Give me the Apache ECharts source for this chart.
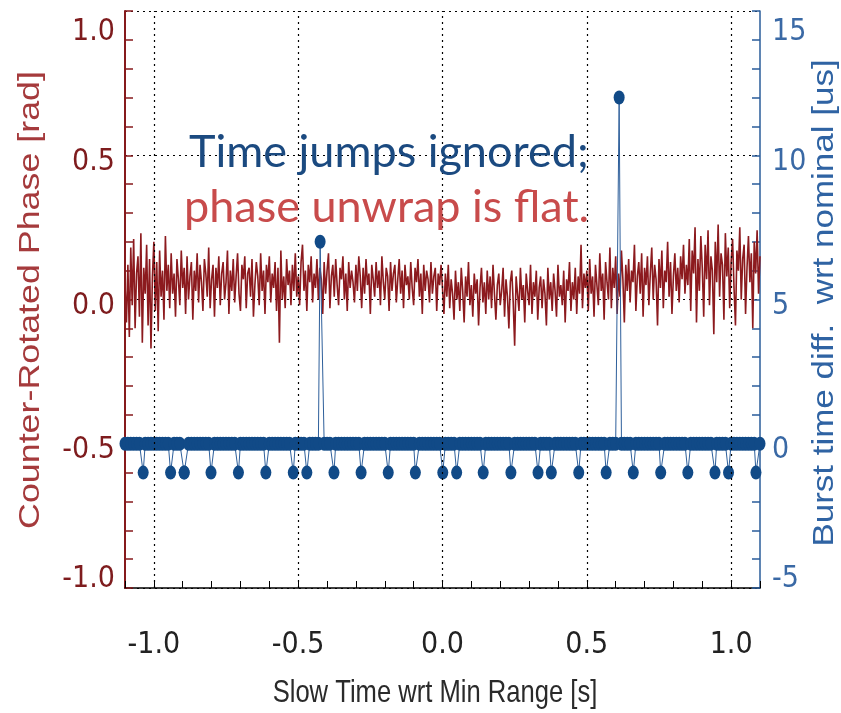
<!DOCTYPE html>
<html>
<head>
<meta charset="utf-8">
<script src="https://cdn.jsdelivr.net/npm/echarts@6/dist/echarts.min.js"></script>
<style>html,body{margin:0;padding:0;background:#fff}#c{width:841px;height:713px}</style>
</head>
<body>
<div id="c"></div>
<script>
// ---- data ----
const phaseStart = -1.1;     // s, first sample of the phase trace
const phaseStep = 0.005;     // s, sample spacing of the phase trace
const phaseValues = [
  // -1.100 .. -0.955
  0.05, -0.08, 0.12, -0.13, 0.18, -0.02, 0.21, -0.10, 0.09, 0.15, -0.06, 0.23, -0.15, 0.11, 0.02, 0.19, -0.09, 0.14, -0.17, 0.08, 0.20, -0.04, 0.13, -0.11, 0.17, 0.01, 0.10, -0.07, 0.22, 0.03,
  // -0.950 .. -0.505
  0.12, -0.03, 0.16, 0.02, 0.09, -0.06, 0.14, 0.07, -0.02, 0.17, 0.04, 0.11, -0.05, 0.15, 0.00, 0.08, 0.13, -0.07, 0.10, 0.03,
  0.16, -0.01, 0.12, 0.06, -0.04, 0.14, 0.09, 0.01, 0.18, -0.03, 0.07, 0.12, -0.06, 0.11, 0.04, 0.15, -0.02, 0.09, 0.13, 0.00,
  0.06, 0.17, -0.05, 0.10, 0.03, 0.14, -0.01, 0.08, 0.16, 0.02, -0.04, 0.12, 0.07, 0.15, -0.03, 0.09, 0.11, 0.01, 0.14, -0.06,
  0.05, 0.13, 0.08, -0.02, 0.16, 0.03, 0.10, -0.05, 0.12, 0.06, 0.15, -0.01, 0.09, 0.04, 0.13, -0.04, 0.11, -0.15, 0.17, 0.00,
  0.08, -0.03, 0.14, 0.05, 0.10, -0.02, 0.12, 0.03, 0.16, 0.01,
  // -0.500 .. -0.005
  0.08, -0.02, 0.13, 0.19, 0.03, 0.10, -0.04, 0.12, 0.06, 0.15,
  -0.01, 0.09, 0.04, 0.14, 0.00, 0.11, 0.07, -0.05, 0.13, 0.02,
  0.10, 0.16, -0.03, 0.08, 0.12, 0.01, 0.14, 0.05, -0.02, 0.11,
  0.07, 0.15, 0.00, 0.09, -0.04, 0.13, 0.04, 0.10, 0.06, -0.01,
  0.12, 0.03, 0.15, 0.08, -0.03, 0.11, 0.02, 0.14, 0.05, 0.09,
  -0.05, 0.12, 0.07, 0.01, 0.13, 0.04, 0.10, -0.02, 0.15, 0.06,
  0.00, 0.11, 0.08, -0.04, 0.13, 0.03, 0.09, 0.12, -0.01, 0.07,
  0.14, 0.02, 0.10, -0.03, 0.12, 0.05, 0.08, 0.00, 0.13, 0.04,
  -0.02, 0.11, 0.06, 0.14, 0.01, 0.09, -0.05, 0.12, 0.03, 0.10,
  0.07, -0.01, 0.13, 0.02, 0.08, 0.11, -0.04, 0.09, 0.05, 0.12,
  // 0.000 .. 0.495
  0.04, -0.05, 0.09, 0.01, 0.12, -0.03, 0.07, 0.02, -0.07, 0.10,
  0.00, 0.06, -0.04, 0.11, 0.03, -0.08, 0.08, 0.01, 0.13, -0.02,
  0.05, -0.06, 0.09, 0.02, 0.07, -0.09, 0.04, 0.11, -0.01, 0.06,
  -0.05, 0.10, 0.00, 0.08, -0.03, 0.12, 0.02, -0.07, 0.05, 0.09,
  -0.02, 0.03, 0.11, -0.06, 0.07, 0.01, -0.10, 0.06, 0.10, -0.01,
  -0.16, 0.08, 0.02, -0.04, 0.11, 0.00, 0.05, -0.08, 0.09, 0.03,
  -0.02, 0.12, -0.05, 0.06, 0.01, 0.10, -0.07, 0.04, 0.08, -0.03,
  0.07, 0.02, -0.09, 0.11, 0.00, 0.06, -0.04, 0.09, 0.03, -0.06,
  0.12, 0.01, 0.05, -0.02, 0.10, -0.08, 0.07, 0.03, 0.13, -0.04,
  0.06, 0.00, 0.11, -0.05, 0.08, 0.02, 0.19, -0.03, 0.09, 0.04,
  // 0.500 .. 0.845
  0.10, -0.04, 0.14, 0.02, 0.08, -0.06, 0.12, 0.05, -0.02, 0.16,
  0.03, 0.09, -0.07, 0.13, 0.06, 0.00, 0.18, -0.03, 0.11, 0.04,
  0.15, -0.05, 0.09, 0.01, 0.17, 0.07, -0.08, 0.12, 0.03, 0.14,
  -0.01, 0.10, 0.06, 0.19, -0.04, 0.08, 0.13, 0.02, 0.16, -0.06,
  0.11, 0.05, 0.15, -0.02, 0.09, 0.18, 0.00, 0.12, 0.07, -0.09,
  0.14, 0.04, 0.17, -0.03, 0.10, 0.06, 0.20, 0.01, 0.13, -0.05,
  0.08, 0.16, 0.03, 0.11, -0.01, 0.15, 0.07, 0.19, 0.02, 0.12,
  // 0.850 .. 1.100
  0.05, 0.21, -0.04, 0.17, 0.09, 0.25, -0.08, 0.14, 0.03, 0.22,
  0.11, -0.06, 0.19, 0.07, 0.24, -0.02, 0.15, 0.10, -0.12, 0.20,
  0.06, 0.26, 0.01, 0.16, 0.12, -0.07, 0.23, 0.08, 0.18, -0.03,
  0.13, 0.21, 0.04, -0.09, 0.17, 0.10, 0.25, 0.00, 0.14, 0.19,
  -0.05, 0.11, 0.22, 0.06, 0.16, -0.10, 0.20, 0.09, 0.24, 0.02,
  0.15
];

const burstStart = -1.1;     // s, first burst
const burstStep = 0.01;      // s, burst spacing
const burstCount = 221;
const burstNominal = 0;      // us, value of all ordinary bursts
const burstDropTimes = [-1.037, -0.942, -0.895, -0.802, -0.707, -0.612, -0.517, -0.470, -0.376, -0.282,
  -0.188, -0.094, 0.001, 0.049, 0.141, 0.237, 0.331, 0.377, 0.472, 0.567, 0.661, 0.756, 0.850, 0.944, 0.991, 1.086];
const burstDropValue = -1;   // us
const burstJumpTimes = [-0.424, 0.612];
const burstJumpValues = [7.0, 12.0];

const xLabelValues = [-1.0, -0.5, 0.0, 0.5, 1.0];
const xTickLabels = ['-1.0', '-0.5', '0.0', '0.5', '1.0'];
const leftLabelValues = [-1.0, -0.5, 0.0, 0.5, 1.0];
const leftTickLabels = ['-1.0', '-0.5', '0.0', '0.5', '1.0'];
const rightLabelValues = [-5, 0, 5, 10, 15];
const rightTickLabels = ['-5', '0', '5', '10', '15'];

// ---- build series ----
const phaseData = phaseValues.map((v, i) => [+(phaseStart + i * phaseStep).toFixed(4), v]);
const events = burstDropTimes.map(t => [t, burstDropValue])
  .concat(burstJumpTimes.map((t, i) => [t, burstJumpValues[i]]));
const burstData = [];
for (let i = 0; i < burstCount; i++) {
  const t = +(burstStart + i * burstStep).toFixed(4);
  const ev = events.find(e => Math.abs(e[0] - t) <= burstStep / 2 + 1e-9);
  burstData.push(ev ? [ev[0], ev[1]] : [t, burstNominal]);
}

const NARROW = "'Liberation Sans Narrow','DejaVu Sans Condensed','Arial Narrow',sans-serif";
const SANS = "'Liberation Sans',Arial,sans-serif";
const dotted = { color: '#000', width: 1.2, type: [2, 4] };

const findLabel = (v, vals) => {
  for (let k = 0; k < vals.length; k++) if (Math.abs(v - vals[k]) < 1e-6) return k;
  return -1;
};
const yRich = (color) => {
  const base = { fontFamily: NARROW, fontSize: 30, color: color };
  return {
    hi: Object.assign({ padding: [42, 0, 0, 0] }, base),
    mid: Object.assign({ padding: [13, 0, 0, 0] }, base),
    lo: Object.assign({ padding: [0, 0, 17, 0] }, base)
  };
};
const yFormatter = (vals, labels) => v => {
  const k = findLabel(v, vals);
  if (k < 0) return '';
  const tag = k === vals.length - 1 ? 'hi' : (k === 0 ? 'lo' : 'mid');
  return '{' + tag + '|' + labels[k] + '}';
};

const chart = echarts.init(document.getElementById('c'), null, { renderer: 'canvas' });
chart.setOption({
  animation: false,
  backgroundColor: '#fff',
  grid: { left: 125, right: 81, top: 11, bottom: 125, containLabel: false },
  xAxis: {
    type: 'value', min: -1.1, max: 1.1, interval: 0.1,
    axisLine: { show: true, onZero: false, lineStyle: { color: '#000', width: 1.5 } },
    axisTick: { show: true, inside: true, length: 7, lineStyle: { color: '#000', width: 1 } },
    axisLabel: {
      fontFamily: NARROW, fontSize: 30, color: '#222', margin: 42,
      formatter: v => { const k = findLabel(v, xLabelValues); return k < 0 ? '' : xTickLabels[k]; }
    },
    splitLine: { show: false }
  },
  yAxis: [{
    type: 'value', min: -1, max: 1, interval: 0.5, position: 'left',
    axisLine: { show: true, onZero: false, lineStyle: { color: '#861A1C', width: 2 } },
    axisTick: { show: true, inside: true, length: 8, lineStyle: { color: '#861A1C', width: 1.5 } },
    minorTick: { show: true, splitNumber: 5, length: 8, lineStyle: { color: '#861A1C', width: 1.5 } },
    axisLabel: {
      fontFamily: NARROW, fontSize: 30, color: '#7E1C1E', margin: 10, verticalAlign: 'middle',
      formatter: yFormatter(leftLabelValues, leftTickLabels), rich: yRich('#7E1C1E')
    },
    splitLine: { show: true, lineStyle: dotted }
  }, {
    type: 'value', min: -5, max: 15, interval: 5, position: 'right',
    axisLine: { show: true, onZero: false, lineStyle: { color: '#2A5C9A', width: 1.5 } },
    axisTick: { show: true, inside: true, length: 8, lineStyle: { color: '#2A5C9A', width: 1.5 } },
    minorTick: { show: true, splitNumber: 5, length: 8, lineStyle: { color: '#2A5C9A', width: 1.5 } },
    axisLabel: {
      fontFamily: NARROW, fontSize: 30, color: '#3A69A5', margin: 12, verticalAlign: 'middle',
      formatter: yFormatter(rightLabelValues, rightTickLabels), rich: yRich('#3A69A5')
    },
    splitLine: { show: false }
  }],
  series: [{
    name: 'grid', type: 'line', data: [], z: 1, silent: true,
    markLine: {
      silent: true, symbol: 'none', label: { show: false },
      lineStyle: dotted,
      data: xLabelValues.map(x => ({ xAxis: x }))
    }
  }, {
    name: 'phase', type: 'line', yAxisIndex: 0, data: phaseData, z: 2,
    showSymbol: false, symbol: 'none', sampling: null,
    lineStyle: { color: '#8C1A1E', width: 1.6 }
  }, {
    name: 'burst line', type: 'line', yAxisIndex: 1, data: burstData, z: 3,
    symbol: 'none', showSymbol: false,
    lineStyle: { color: '#2E5F9B', width: 1 }
  }, {
    name: 'burst', type: 'scatter', yAxisIndex: 1, data: burstData, z: 4,
    symbol: 'circle', symbolSize: [11, 14],
    itemStyle: { color: '#114A87', opacity: 1 }
  }],
  graphic: [
    { type: 'text', x: 31, y: 300, rotation: Math.PI / 2, scaleX: 1.235, silent: true,
      style: { text: 'Counter-Rotated Phase [rad]', fill: '#A53A3C', font: '29px ' + SANS, align: 'center', verticalAlign: 'middle' } },
    { type: 'text', x: 825, y: 303, rotation: Math.PI / 2, scaleX: 1.206, silent: true,
      style: { text: 'Burst time diff.  wrt nominal [us]', fill: '#2F63A3', font: '29px ' + SANS, align: 'center', verticalAlign: 'middle' } },
    { type: 'text', x: 435, y: 694, scaleY: 1.2, silent: true,
      style: { text: 'Slow Time wrt Min Range [s]', fill: '#2a2a2a', font: '25.6px ' + SANS, align: 'center', verticalAlign: 'middle' } },
    { type: 'text', x: 189, y: 152, silent: true, z: 10,
      style: { text: 'Time jumps ignored;', fill: '#1B4A80', font: '45px Lato, "Open Sans", sans-serif', align: 'left', verticalAlign: 'middle' } },
    { type: 'text', x: 184, y: 207, silent: true, z: 10,
      style: { text: 'phase unwrap is flat.', fill: '#C84B4B', font: '45px Lato, "Open Sans", sans-serif', align: 'left', verticalAlign: 'middle' } }
  ]
});
</script>
</body>
</html>
